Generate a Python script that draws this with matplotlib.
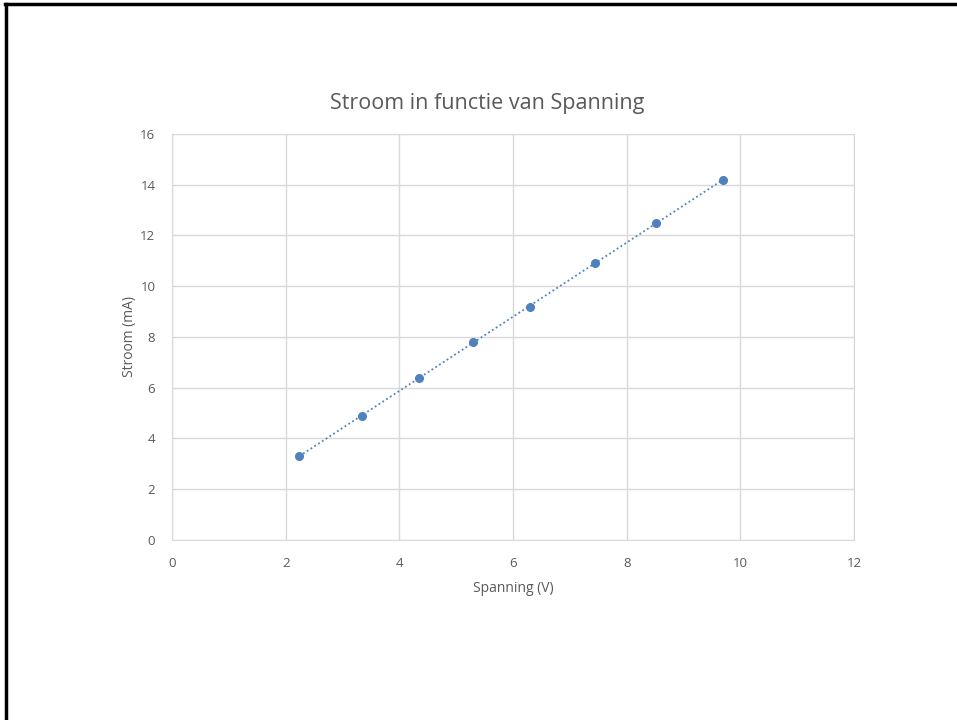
import matplotlib.pyplot as plt
import numpy as np

# meetwaarden
spanning = [2.24, 3.34, 4.35, 5.30, 6.30, 7.44, 8.52, 9.70]
stroom = [3.3, 4.9, 6.4, 7.8, 9.2, 10.9, 12.5, 14.2]
x_ticks = [0, 2, 4, 6, 8, 10, 12]
y_ticks = [0, 2, 4, 6, 8, 10, 12, 14, 16]

blauw = '#4F81BD'
grijs = '#595959'
rooster = '#d9d9d9'

plt.rcParams['font.family'] = ['Open Sans', 'DejaVu Sans']

fig = plt.figure(figsize=(9.57, 7.2), dpi=100)
ax = fig.add_axes([0.1797, 0.25, 0.7127, 0.5639])

# lineaire trendlijn
a, b = np.polyfit(spanning, stroom, 1)
xs = np.array([min(spanning), max(spanning)])
ax.plot(xs, a * xs + b, linestyle=(0, (1, 1.5)), color=blauw, linewidth=1.3, zorder=2)
ax.plot(spanning, stroom, 'o', color=blauw, markersize=5.5, zorder=3)

ax.set_xlim(0, 12)
ax.set_ylim(0, 16)
ax.set_xticks(x_ticks)
ax.set_yticks(y_ticks)
ax.grid(True, color=rooster, linewidth=1)
ax.set_axisbelow(True)
for s in ax.spines.values():
    s.set_color(rooster)
ax.tick_params(length=0, labelsize=9.5, colors=grijs)
ax.tick_params(axis='x', pad=12)
ax.tick_params(axis='y', pad=12)

ax.set_xlabel('Spanning (V)', fontsize=10, color=grijs, labelpad=8)
ax.set_ylabel('Stroom (mA)', fontsize=10, color=grijs, labelpad=2)

# titel gecentreerd op het grafiekgebied, niet op het tekengebied
fig.text(487 / 957, 1 - 103 / 720, 'Stroom in functie van Spanning',
         fontsize=15.5, color=grijs, ha='center', va='center')

# kader van de dia (boven en links)
fig.add_artist(plt.Line2D([0.005, 1], [0.9944, 0.9944], color='black', linewidth=2.5))
fig.add_artist(plt.Line2D([0.0058, 0.0058], [0, 0.9944], color='black', linewidth=2.5))

fig.savefig('out.png', dpi=100)
